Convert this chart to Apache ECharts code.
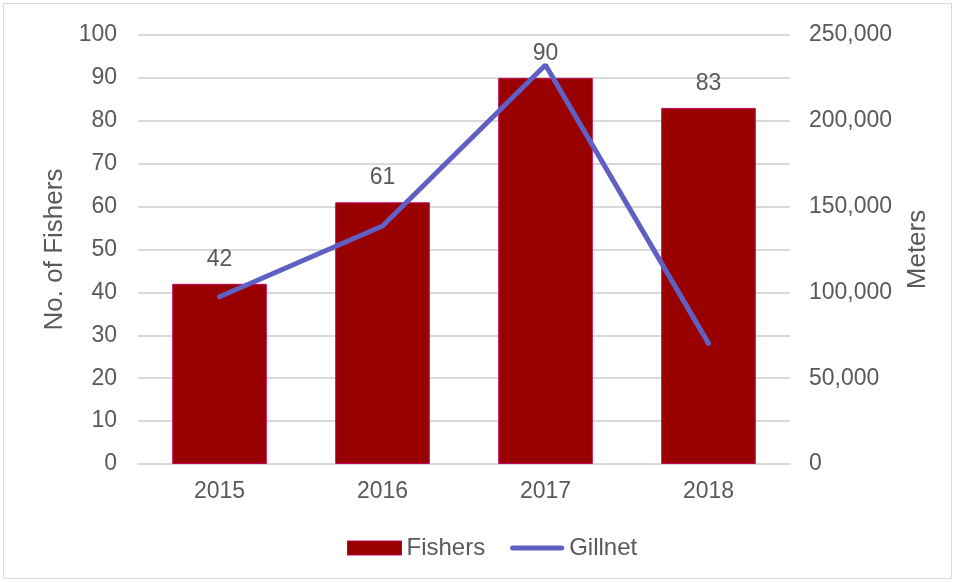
<!DOCTYPE html>
<html>
<head>
<meta charset="utf-8">
<script src="https://cdn.jsdelivr.net/npm/echarts@6/dist/echarts.min.js"></script>
<style>
html,body{margin:0;padding:0;background:#fff;}
#chart{width:955px;height:582px;}
</style>
</head>
<body>
<div id="chart"></div>
<script>
const categories = ['2015', '2016', '2017', '2018'];
const fishers = [42, 61, 90, 83];
const gillnet = [97500, 138700, 232500, 70300];
const leftTicks = { min: 0, max: 100, interval: 10 };
const rightTicks = { min: 0, max: 250000, interval: 50000 };

const chart = echarts.init(document.getElementById('chart'));
const txt = '#595959';
const font = 'Liberation Sans, Arial, sans-serif';
const lineColor = '#5f5fc4';
chart.setOption({
  animation: false,
  backgroundColor: '#fff',
  graphic: [{
    type: 'rect', shape: { x: 3.5, y: 3.5, width: 948, height: 575 },
    style: { fill: 'none', stroke: '#d9d9d9', lineWidth: 1 }, silent: true
  }],
  grid: { left: 138, right: 165, top: 35, bottom: 118 },
  legend: {
    top: 531, left: 342, itemGap: 25, itemWidth: 54, itemHeight: 14,
    textStyle: { color: txt, fontSize: 24, fontFamily: font },
    data: [
      { name: 'Fishers', icon: 'rect', itemStyle: { color: '#990000', borderColor: '#c0005a', borderWidth: 1 } },
      { name: 'Gillnet', icon: 'path://M2.5,0 L51.5,0 A2.5,2.5 0 0 1 51.5,5 L2.5,5 A2.5,2.5 0 0 1 2.5,0 Z',
        itemStyle: { color: lineColor, borderWidth: 0 } }
    ]
  },
  xAxis: {
    type: 'category', data: categories,
    axisLine: { show: true, lineStyle: { color: '#d9d9d9', width: 2 } },
    axisTick: { show: false },
    axisLabel: { color: txt, fontSize: 23, fontFamily: font, margin: 16 }
  },
  yAxis: [{
    type: 'value', min: leftTicks.min, max: leftTicks.max, interval: leftTicks.interval,
    name: 'No. of Fishers', nameLocation: 'middle', nameGap: 70, nameRotate: 90,
    nameTextStyle: { color: txt, fontSize: 26, fontFamily: font },
    axisLine: { show: false }, axisTick: { show: false },
    axisLabel: { color: txt, fontSize: 23, fontFamily: font, margin: 21 },
    splitLine: { lineStyle: { color: '#d9d9d9', width: 2 } }
  }, {
    type: 'value', min: rightTicks.min, max: rightTicks.max, interval: rightTicks.interval,
    name: 'Meters', nameLocation: 'middle', nameGap: 115, nameRotate: 90,
    nameTextStyle: { color: txt, fontSize: 26, fontFamily: font },
    axisLine: { show: false }, axisTick: { show: false },
    axisLabel: { color: txt, fontSize: 23, fontFamily: font, margin: 19,
      formatter: v => v.toLocaleString('en-US') },
    splitLine: { show: false }
  }],
  series: [{
    name: 'Fishers', type: 'bar', data: fishers, barWidth: '58%',
    itemStyle: { color: '#990000', borderColor: '#c0005a', borderWidth: 1 },
    label: { show: true, position: 'top', distance: 13, color: txt, fontSize: 23, fontFamily: font }
  }, {
    name: 'Gillnet', type: 'line', yAxisIndex: 1, data: gillnet,
    symbol: 'none', lineStyle: { color: lineColor, width: 5, cap: 'round' },
    itemStyle: { color: lineColor }
  }]
});
</script>
</body>
</html>
